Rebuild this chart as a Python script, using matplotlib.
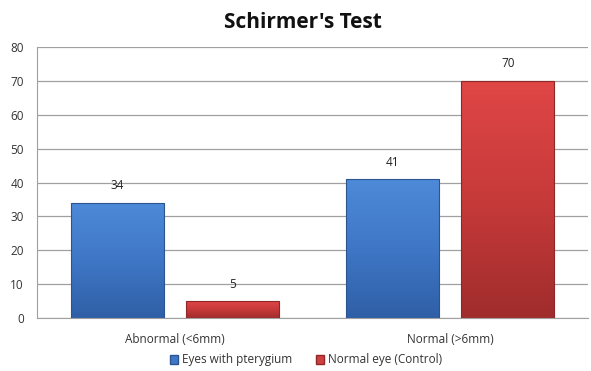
import numpy as np
import matplotlib
matplotlib.use("Agg")
import matplotlib.pyplot as plt
from matplotlib.colors import LinearSegmentedColormap
from matplotlib.patches import Rectangle

categories = ["Abnormal (<6mm)", "Normal (>6mm)"]
series_names = ["Eyes with pterygium", "Normal eye (Control)"]
pterygium = [34, 41]
control = [5, 70]
y_ticks = [0, 10, 20, 30, 40, 50, 60, 70, 80]

plt.rcParams["font.family"] = ["Open Sans", "DejaVu Sans"]

fig = plt.figure(figsize=(5.91, 3.71), dpi=100)
ax = fig.add_axes([37 / 591, 1 - 318 / 371, 551 / 591, 271 / 371])

x = np.arange(len(categories))
width = 0.338
offset = 0.209

blue_cmap = LinearSegmentedColormap.from_list("b", ["#2f5fa6", "#3f77c6", "#4d8ad8"])
red_cmap = LinearSegmentedColormap.from_list("r", ["#a02c2c", "#c73a3a", "#e04646"])

def gradient_bars(xs, vals, cmap, edge):
    bars = ax.bar(xs, vals, width, color="none", edgecolor=edge, linewidth=0.8, zorder=3)
    grad = np.linspace(0, 1, 256).reshape(-1, 1)
    for b in bars:
        x0, y0 = b.get_x(), b.get_y()
        w, h = b.get_width(), b.get_height()
        im = ax.imshow(grad, cmap=cmap, aspect="auto", origin="lower",
                       extent=[x0, x0 + w, y0, y0 + h], zorder=2)
        clip = Rectangle((x0, y0), w, h, transform=ax.transData)
        im.set_clip_path(clip)
    return bars

b1 = gradient_bars(x - offset, pterygium, blue_cmap, "#2a5590")
b2 = gradient_bars(x + offset, control, red_cmap, "#8e2828")

for xs, vals in ((x - offset, pterygium), (x + offset, control)):
    for xi, v in zip(xs, vals):
        ax.text(xi, v + 5.0, str(v), ha="center", va="center", fontsize=8.5, color="#222222")

ax.set_xlim(-0.5, 1.5)
ax.set_ylim(0, 80)
ax.set_yticks(y_ticks)
ax.set_xticks(x)
ax.set_xticklabels(categories)
ax.tick_params(axis="both", labelsize=8.5, colors="#333333", length=0)
ax.tick_params(axis="y", pad=9.5)
ax.tick_params(axis="x", pad=11)
ax.yaxis.grid(True, color="#a0a0a0", linewidth=0.9)
ax.set_axisbelow(True)
for s in ("top", "right"):
    ax.spines[s].set_visible(False)
ax.spines["left"].set_color("#a0a0a0")
ax.spines["bottom"].set_color("#a0a0a0")

fig.text(303 / 591, 1 - 22 / 371, "Schirmer's Test", ha="center", va="center",
         fontsize=15, fontweight="bold", color="#111111")

handles = [Rectangle((0, 0), 1, 1, facecolor="#3f77c6", edgecolor="#2a5590"),
           Rectangle((0, 0), 1, 1, facecolor="#d04040", edgecolor="#8e2828")]
fig.legend(handles, series_names, loc="center", bbox_to_anchor=(306 / 591, 1 - 360 / 371),
           ncol=2, frameon=False, fontsize=8.5, handlelength=0.7, handleheight=0.7,
           handletextpad=0.3, columnspacing=2.0, labelcolor="#333333",
           borderpad=0.0)

fig.savefig("out.png", dpi=100, facecolor="white")
